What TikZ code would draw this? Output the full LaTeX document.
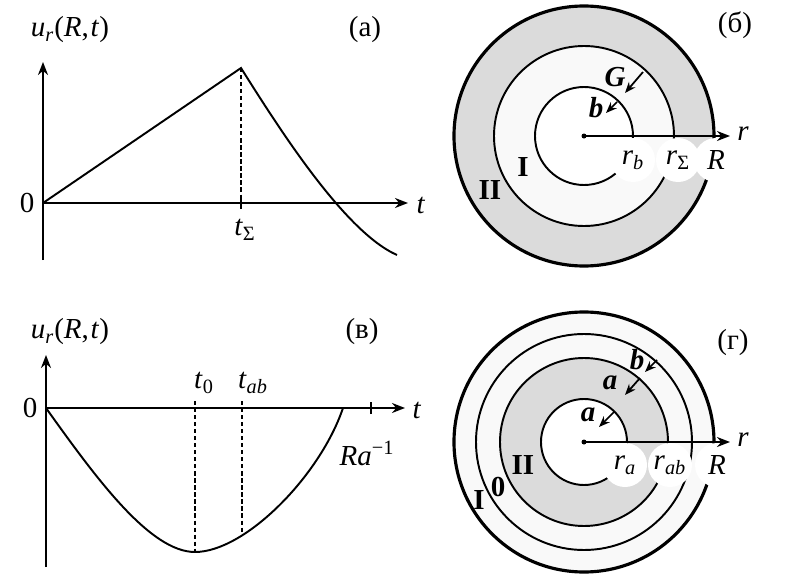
\documentclass[tikz,border=0pt]{standalone}
\usepackage{fontspec}
\setmainfont{Liberation Serif}
\usetikzlibrary{arrows.meta}
\definecolor{ringgray}{gray}{0.86}
\definecolor{ringlight}{gray}{0.975}
\newcommand{\urt}{\textit{u}\textsubscript{\textit{r}}(\textit{R},\kern1pt\textit{t})}
\newcommand{\bi}[1]{\textbf{\textit{#1}}}

\begin{document}
\begin{tikzpicture}[x=0.2mm,y=0.2mm,
    axis/.style={line width=1.1pt,-{Stealth[length=2.6mm,width=2mm]}},
    curve/.style={line width=1.1pt},
    guide/.style={line width=0.8pt,dash pattern=on 2.4pt off 1.6pt},
    ring/.style={line width=1.1pt},
    rim/.style={line width=1.8pt},
    radarrow/.style={line width=1pt,-{Stealth[length=2.2mm,width=1.7mm]}},
    lbl/.style={font=\fontsize{16.5}{19}\selectfont},
    bflbl/.style={font=\fontsize{16.5}{19}\selectfont\bfseries},
    tag/.style={lbl,fill=white,circle,inner sep=0pt,minimum size=8.8mm}]
  \useasboundingbox (0,0) rectangle (800,586);

  % (a) -- growth up to t_Sigma, then decay
  \coordinate (Oa) at (43,383);
  \coordinate (Ta) at (408,383);
  \coordinate (Ya) at (43,524);
  \coordinate (Ba) at (43,326);
  \coordinate (Pk) at (241,518);
  \coordinate (Pe) at (397,331);
  \draw[axis] (Ba) -- (Ya);
  \draw[axis] (Oa) -- (Ta);
  \draw[curve] (Oa) -- (Pk) .. controls (280,456) and (345,354) .. (Pe);
  \draw[guide] (Pk) -- (Pk|-Oa);
  \draw[curve] (241,377) -- (241,389);
  \node[lbl] (za) at (27,383) {0};
  \node[lbl] (ta) at (421,381) {\textit{t}};
  \node[lbl] (tS) at (245,356) {\textit{t}\textsubscript{Σ}};
  \node[lbl] (ua) at (70,556) {\urt};
  \node[lbl] (pa) at (365,556) {(a)};

  % (v) -- negative dip between 0 and R/a
  \coordinate (Ov) at (46,178);
  \coordinate (Tv) at (405,178);
  \coordinate (Yv) at (46,231);
  \coordinate (Bv) at (46,19);
  \coordinate (Mn) at (195,34);
  \coordinate (Qv) at (242,51);
  \coordinate (Ev) at (343,178);
  \draw[axis] (Bv) -- (Yv);
  \draw[axis] (Ov) -- (Tv);
  \draw[curve] (Ov) .. controls (96,108) and (150,34) .. (Mn)
               .. controls (245,34) and (320,110) .. (Ev);
  \draw[guide] (195,185) -- (Mn);
  \draw[guide] (242,185) -- (Qv);
  \draw[curve] (371,172) -- (371,184);
  \node[lbl] (zv) at (30,178) {0};
  \node[lbl] (tv) at (417,176) {\textit{t}};
  \node[lbl] (t0) at (204,203) {\textit{t}\textsubscript{0}};
  \node[lbl] (tab) at (253,203) {\textit{t}\textsubscript{\textit{ab}}};
  \node[lbl] (Ra) at (367,133) {\textit{Ra}\textsuperscript{−1}};
  \node[lbl] (uv) at (70,254) {\urt};
  \node[lbl] (pv) at (362,254) {(в)};

  % (b) -- two zones
  \coordinate (Cb) at (584,450);
  \fill[ringgray] (Cb) circle[radius=130];
  \fill[ringlight] (Cb) circle[radius=90];
  \fill[white] (Cb) circle[radius=49];
  \draw[rim] (Cb) circle[radius=130];
  \draw[ring] (Cb) circle[radius=90];
  \draw[ring] (Cb) circle[radius=49];
  \node[tag] (rb) at (633,426) {\textit{r}\textsubscript{\textit{b}}};
  \node[tag] (rS) at (678,426) {\textit{r}\textsubscript{Σ}};
  \node[tag] (Rb) at (716,426) {\textit{R}};
  \coordinate (Xb) at (730,450);
  \draw[axis] (Cb) -- (Xb);
  \fill (Cb) circle[radius=2.5];
  \node[lbl] (rrb) at (743,452) {\textit{r}};
  \coordinate (G1) at (643,514);
  \coordinate (G2) at (625,493);
  \coordinate (b1) at (617,484);
  \coordinate (b2) at (606,473);
  \draw[radarrow] (G1) -- (G2);
  \draw[radarrow] (b1) -- (b2);
  \node[lbl] (Gb) at (615,509) {\bi{G}};
  \node[lbl] (bb) at (596,478) {\bi{b}};
  \node[bflbl] (Ib) at (523,419) {I};
  \node[bflbl] (IIb) at (490,396) {II};
  \node[lbl] (pb) at (735,561) {(б)};

  % (g) -- three zones
  \coordinate (Cg) at (584,144);
  \fill[ringlight] (Cg) circle[radius=130];
  \fill[ringgray] (Cg) circle[radius=84];
  \fill[white] (Cg) circle[radius=43];
  \draw[rim] (Cg) circle[radius=130];
  \draw[ring] (Cg) circle[radius=108];
  \draw[ring] (Cg) circle[radius=84];
  \draw[ring] (Cg) circle[radius=43];
  \node[tag] (ra) at (625,121) {\textit{r}\textsubscript{\textit{a}}};
  \node[tag] (rab) at (670,121) {\textit{r}\textsubscript{\textit{ab}}};
  \node[tag] (Rg) at (717,121) {\textit{R}};
  \coordinate (Xg) at (730,144);
  \draw[axis] (Cg) -- (Xg);
  \fill (Cg) circle[radius=2.5];
  \node[lbl] (rrg) at (743,146) {\textit{r}};
  \coordinate (a1) at (614,174);
  \coordinate (a2) at (599,159);
  \coordinate (m1) at (640,208);
  \coordinate (m2) at (625,191);
  \coordinate (n1) at (657,226);
  \coordinate (n2) at (645,214);
  \draw[radarrow] (a1) -- (a2);
  \draw[radarrow] (m1) -- (m2);
  \draw[radarrow] (n1) -- (n2);
  \node[lbl] (ag) at (588,171) {\bi{a}};
  \node[lbl] (mg) at (610,203) {\bi{a}};
  \node[lbl] (ng) at (637,226) {\bi{b}};
  \node[bflbl] (IIg) at (523,121) {II};
  \node[bflbl] (zg) at (498,99) {0};
  \node[bflbl] (Ig) at (479,86) {I};
  \node[lbl] (pg) at (733,243) {(г)};
\end{tikzpicture}
\end{document}
